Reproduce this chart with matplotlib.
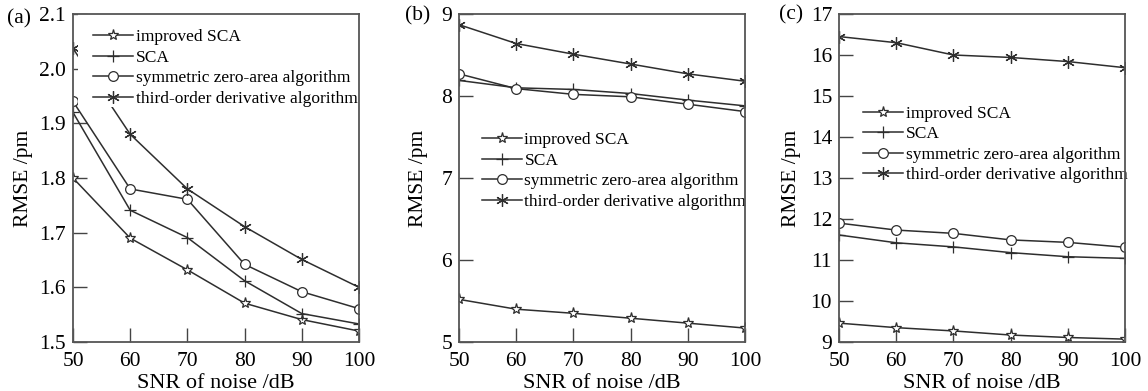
import matplotlib
matplotlib.use("Agg")
import matplotlib.pyplot as plt
from matplotlib.patches import Rectangle

plt.rcParams['font.family'] = ['Liberation Serif', 'DejaVu Serif']

snr = [50, 60, 70, 80, 90, 100]
series_names = ["improved SCA", "SCA", "symmetric zero-area algorithm",
                "third-order derivative algorithm"]

# panel (a)
a_improved = [1.80, 1.69, 1.632, 1.571, 1.541, 1.52]
a_sca = [1.92, 1.741, 1.691, 1.612, 1.552, 1.533]
a_sym = [1.94, 1.78, 1.761, 1.642, 1.592, 1.561]
a_third = [2.037, 1.88, 1.78, 1.711, 1.651, 1.60]

# panel (b)
b_improved = [5.52, 5.40, 5.35, 5.29, 5.23, 5.17]
b_sca = [8.19, 8.10, 8.08, 8.03, 7.95, 7.88]
b_sym = [8.27, 8.09, 8.02, 7.99, 7.90, 7.81]
b_third = [8.87, 8.64, 8.51, 8.39, 8.27, 8.18]

# panel (c)
c_improved = [9.46, 9.35, 9.27, 9.17, 9.11, 9.07]
c_sca = [11.61, 11.42, 11.32, 11.18, 11.08, 11.04]
c_sym = [11.90, 11.73, 11.65, 11.49, 11.43, 11.31]
c_third = [16.45, 16.30, 16.00, 15.94, 15.84, 15.69]

panel_labels = ["(a)", "(b)", "(c)"]
ylims = [(1.5, 2.1), (5, 9), (9, 17)]
yticks = [[1.5, 1.6, 1.7, 1.8, 1.9, 2.0, 2.1], [5, 6, 7, 8, 9],
          [9, 10, 11, 12, 13, 14, 15, 16, 17]]
ytick_labels = [["1.5", "1.6", "1.7", "1.8", "1.9", "2.0", "2.1"],
                ["5", "6", "7", "8", "9"],
                ["9", "10", "11", "12", "13", "14", "15", "16", "17"]]
xticks = [50, 60, 70, 80, 90, 100]

data = [
    [a_improved, a_sca, a_sym, a_third],
    [b_improved, b_sca, b_sym, b_third],
    [c_improved, c_sca, c_sym, c_third],
]

W, H = 1148, 391
fig = plt.figure(figsize=(W / 100, H / 100), dpi=100)

ax_lefts = [73, 459, 839]
ax_top, ax_bot, ax_w = 14, 342, 286
legend_anchor = [(0.07, 0.954), (0.08, 0.64), (0.084, 0.72)]
ylabel_x = [-0.14, -0.108, -0.133]
plabel_pos = [(7, 19), (405, 16), (779, 15)]

col = '#2e2e2e'
ast = (6, 2, 0)
styles = [
    dict(marker='*', markersize=8, markerfacecolor='white', markeredgewidth=0.9),
    dict(marker='+', markersize=8, markeredgewidth=0.9),
    dict(marker='o', markersize=7, markerfacecolor='white', markeredgewidth=0.9),
    dict(marker=ast, markersize=9, markeredgewidth=0.9),
]

for i in range(3):
    left = ax_lefts[i] / W
    bottom = 1 - ax_bot / H
    height = (ax_bot - ax_top) / H
    ax = fig.add_axes([left, bottom, ax_w / W, height])
    for j, ys in enumerate(data[i]):
        ax.plot(snr, ys, color=col, linewidth=1.1, label=series_names[j],
                markeredgecolor=col, **styles[j])
    ax.set_xlim(50, 100)
    ax.set_ylim(*ylims[i])
    ax.set_xticks(xticks)
    ax.set_xticklabels([str(x) for x in xticks])
    ax.set_yticks(yticks[i])
    ax.set_yticklabels(ytick_labels[i])
    ax.tick_params(direction='in', length=10, width=1.0, color='#444444',
                   labelsize=15.5, pad=5, top=False, right=False)
    ax.tick_params(axis='x', pad=7)
    for sp in ax.spines.values():
        sp.set_color('#555555')
        sp.set_linewidth(1.3)
    ax.set_xlabel("SNR of noise /dB", fontsize=16)
    ax.xaxis.set_label_coords(0.5, -0.097)
    ax.set_ylabel("RMSE /pm", fontsize=15.5)
    ax.yaxis.set_label_coords(ylabel_x[i], 0.5)
    leg = ax.legend(loc='upper left', bbox_to_anchor=legend_anchor[i],
                    fontsize=12.5, frameon=True, framealpha=1,
                    borderpad=0, borderaxespad=0, handlelength=2.3,
                    handletextpad=0.15, labelspacing=0.25)
    leg.get_frame().set_edgecolor('none')
    leg.get_frame().set_facecolor('white')
    leg.set_zorder(2.3)
    if i == 0:
        # white legend background extends a little to the left in panel (a)
        ax.add_patch(Rectangle((0.0175, 0.7226), 0.06, 0.2774,
                               transform=ax.transAxes, facecolor='white',
                               edgecolor='none', zorder=2.3))
    px, py = plabel_pos[i]
    fig.text(px / W, 1 - py / H, panel_labels[i], fontsize=15.5,
             ha='left', va='center')

fig.savefig("out.png", dpi=100)
